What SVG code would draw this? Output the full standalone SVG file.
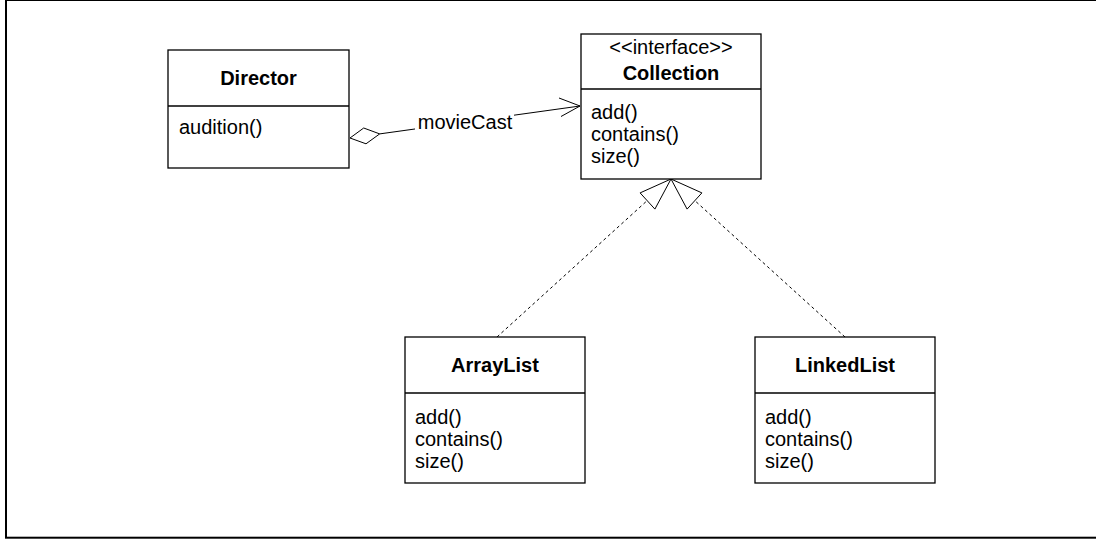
<svg xmlns="http://www.w3.org/2000/svg" width="1096" height="539" viewBox="0 0 1096 539">
<style>
.box{fill:#fff;stroke:#000;stroke-width:1.3}
.div{stroke:#000;stroke-width:1.3}
text{font-family:"Liberation Sans",Arial,Helvetica,sans-serif;font-size:20px;fill:#000}
.t{font-weight:bold;text-anchor:middle}
.s{text-anchor:middle}
.ln{stroke:#000;stroke-width:1;fill:none}
.dash{stroke:#000;stroke-width:1;fill:none;stroke-dasharray:3,3}
.tri{fill:#fff;stroke:#000;stroke-width:1}
</style>
<rect x="6" y="0" width="1100" height="537.7" fill="#fff" stroke="#000" stroke-width="2"/>
<g id="connectors">
  <g id="assoc">
    <line class="ln" x1="379.7" y1="133.9" x2="580" y2="106"/>
    <polygon class="tri" points="350,138 363.7,128 379.7,133.9 366,143.8"/>
    <polyline class="ln" points="559,98 580,106 561,116.5"/>
    <rect x="415" y="112" width="99" height="20" fill="#fff"/>
    <text x="465" y="129" class="s">movieCast</text>
  </g>
  <g id="realize-arraylist">
    <line class="dash" x1="497" y1="337" x2="647.3" y2="200.5"/>
    <polygon class="tri" points="671,179 654.9,209.1 640.1,192.9"/>
  </g>
  <g id="realize-linkedlist">
    <line class="dash" x1="845" y1="337" x2="694.7" y2="200.5"/>
    <polygon class="tri" points="671,179 687.1,209.1 701.9,192.9"/>
  </g>
</g>
<g id="director">
  <rect class="box" x="168" y="50" width="181" height="118"/>
  <line class="div" x1="168" y1="106" x2="349" y2="106"/>
  <text x="258.5" y="85" class="t">Director</text>
  <text x="179" y="134">audition()</text>
</g>
<g id="collection">
  <rect class="box" x="581" y="34" width="180" height="145"/>
  <line class="div" x1="581" y1="89" x2="761" y2="89"/>
  <text x="671" y="54" class="s">&lt;&lt;interface&gt;&gt;</text>
  <text x="671" y="80" class="t">Collection</text>
  <text x="591" y="119">add()</text>
  <text x="591" y="141">contains()</text>
  <text x="591" y="163">size()</text>
</g>
<g id="arraylist">
  <rect class="box" x="405" y="337" width="180" height="146"/>
  <line class="div" x1="405" y1="393" x2="585" y2="393"/>
  <text x="495" y="372" class="t">ArrayList</text>
  <text x="415" y="424">add()</text>
  <text x="415" y="446">contains()</text>
  <text x="415" y="468">size()</text>
</g>
<g id="linkedlist">
  <rect class="box" x="755" y="337" width="180" height="146"/>
  <line class="div" x1="755" y1="393" x2="935" y2="393"/>
  <text x="845" y="372" class="t">LinkedList</text>
  <text x="765" y="424">add()</text>
  <text x="765" y="446">contains()</text>
  <text x="765" y="468">size()</text>
</g>
</svg>
